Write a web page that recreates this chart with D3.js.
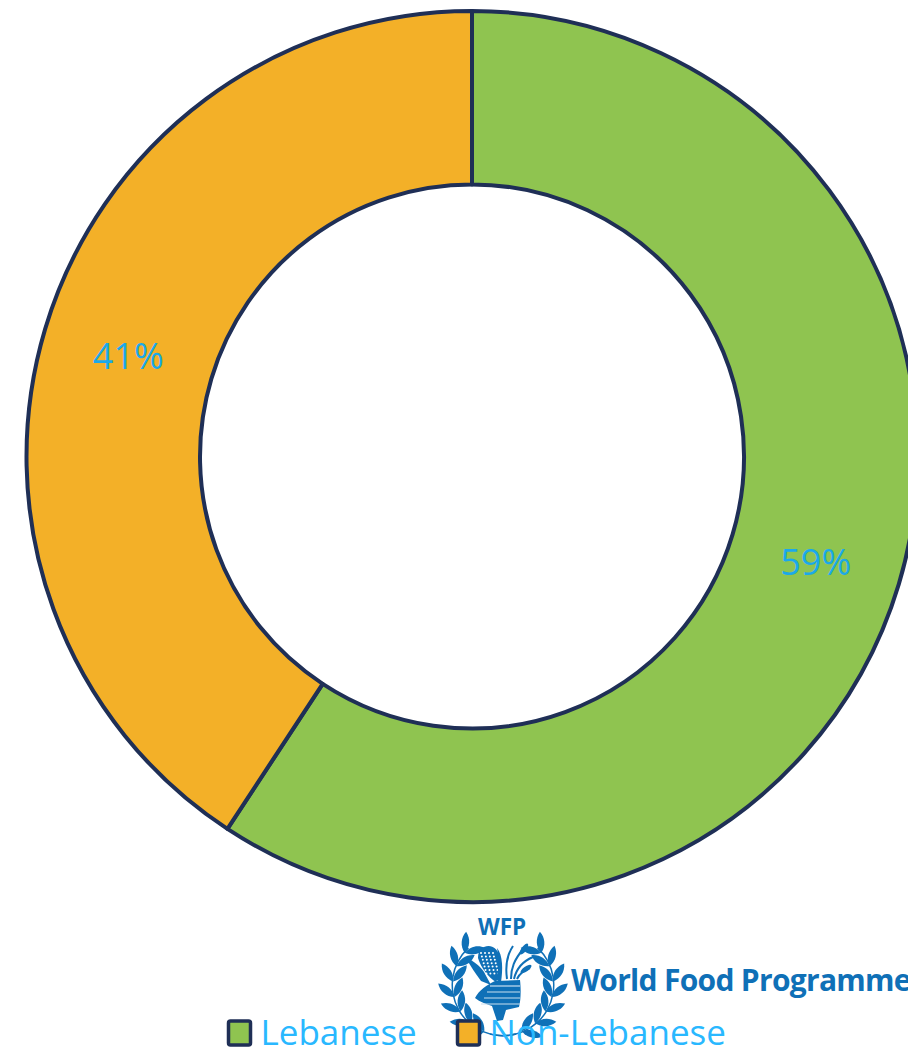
<!DOCTYPE html>
<html>
<head>
<meta charset="utf-8">
<script src="https://d3js.org/d3.v7.min.js"></script>
<style>
    html, body { margin: 0; padding: 0; background: #fff; overflow: hidden; }
    svg { display: block; }
    text { font-family: "Open Sans", sans-serif; }
</style>
</head>
<body>
<script>
    var categories = ["Lebanese", "Non-Lebanese"];
    var shares = [59.25, 40.75];
    var sliceColors = ["#8fc450", "#f3b028"];

    var width = 908, height = 1048;
    var cx = 472, cy = 456.5;
    var outer = 445.5, inner = 272;
    var navy = "#1f2f56", labelBlue = "#1ba9ea", legendBlue = "#29b8ff", logoBlue = "#0f70b7";

    var svg = d3.select("body").append("svg")
        .attr("width", width)
        .attr("height", height);

    // ==== DONUT ====== //
    var pie = d3.pie().sort(null).value(function (d) { return d; });
    var arc = d3.arc().innerRadius(inner).outerRadius(outer);
    var color = d3.scaleOrdinal().domain(categories).range(sliceColors);

    var donut = svg.append("g")
        .attr("transform", "translate(" + cx + "," + cy + ")");

    var slices = pie(shares);

    donut.selectAll("path")
        .data(slices)
        .enter().append("path")
        .attr("d", arc)
        .attr("fill", function (d, i) { return color(categories[i]); })
        .attr("stroke", navy)
        .attr("stroke-width", 4)
        .attr("stroke-linejoin", "round");

    donut.selectAll(".pct")
        .data(slices)
        .enter().append("text")
        .attr("class", "pct")
        .attr("transform", function (d) { return "translate(" + arc.centroid(d) + ")"; })
        .attr("dy", "0.35em")
        .attr("y", 3)
        .attr("text-anchor", "middle")
        .attr("fill", labelBlue)
        .style("font-size", "36px")
        .text(function (d) { return d3.format(".0f")(d.value) + "%"; });

    // ==== LOGO ====== //
    var logo = svg.append("g").attr("class", "logo");
    var logoX = 503, logoY = 985;

    logo.append("text")
        .attr("x", logoX - 1).attr("y", 935)
        .attr("text-anchor", "middle")
        .attr("fill", logoBlue)
        .style("font-size", "22.5px")
        .style("font-weight", 700)
        .text("WFP");

    logo.append("text")
        .attr("x", 571).attr("y", 991)
        .attr("fill", logoBlue)
        .style("font-size", "30px")
        .style("font-weight", 700)
        .style("letter-spacing", "-0.7px")
        .text("World Food Programme");

    // wreath: pairs of leaves along a circle, mirrored left and right
    var leafAngles = [50, 68, 86, 104, 122, 140, 158];
    var leaf = "M0,0C6,-6 7,-14 3,-21C-3,-15 -4,-7 0,0Z";
    var wreath = logo.append("g").attr("transform", "translate(" + logoX + "," + logoY + ")");

    [-1, 1].forEach(function (side) {
        var half = wreath.append("g").attr("transform", "scale(" + side + ",1)");
        half.append("path")
            .attr("d", d3.arc().innerRadius(50).outerRadius(51.5).startAngle(0.75).endAngle(3.4)())
            .attr("fill", logoBlue);
        leafAngles.forEach(function (a) {
            var g = half.append("g")
                .attr("transform", "rotate(" + a + ") translate(0,-50)");
            g.append("path").attr("d", leaf).attr("fill", logoBlue)
                .attr("transform", "rotate(-62)");
            g.append("path").attr("d", leaf).attr("fill", logoBlue)
                .attr("transform", "rotate(-118) scale(-1,1)");
        });
    });

    // corn, stalks and sheaf
    logo.append("path")
        .attr("d", "M466,958C474,961 480,966 484,972L491,985L481,981C475,973 470,965 466,958Z")
        .attr("fill", logoBlue);
    logo.append("path")
        .attr("d", "M484,947C491,944 497,948 499,955C501,965 500,975 496,982C489,978 481,968 478,958C478,952 480,949 484,947Z")
        .attr("fill", logoBlue);
    logo.selectAll(".kernel")
        .data(d3.range(28))
        .enter().append("circle")
        .attr("class", "kernel")
        .attr("cx", function (d) { return 481 + (d % 4) * 4 + Math.floor(d / 4) * 0.9; })
        .attr("cy", function (d) { return 953 + Math.floor(d / 4) * 3.4; })
        .attr("r", 1)
        .attr("fill", "#fff");
    logo.append("path")
        .attr("d", "M497,948C503,955 503,970 501,982L496,980C499,970 499,958 497,948Z")
        .attr("fill", logoBlue);
    logo.append("g")
        .attr("fill", "none").attr("stroke", logoBlue).attr("stroke-width", 2)
        .selectAll("path")
        .data([
            "M507,979C505,965 507,955 513,946",
            "M511,979C511,968 514,960 524,948",
            "M514,979C516,970 521,962 533,957",
            "M517,979C519,975 524,970 530,968"
        ])
        .enter().append("path")
        .attr("d", function (d) { return d; });
    logo.append("ellipse").attr("cx", 524).attr("cy", 949).attr("rx", 2.5).attr("ry", 6.5)
        .attr("transform", "rotate(35 524 949)").attr("fill", logoBlue);
    logo.append("ellipse").attr("cx", 526).attr("cy", 969).attr("rx", 2.5).attr("ry", 6.5)
        .attr("transform", "rotate(55 526 969)").attr("fill", logoBlue);
    logo.append("path")
        .attr("d", "M495,981L520,980C521,988 521,1000 519,1007L506,1010L503,1020L497,1021L492,1006C486,1004 480,1002 475,998C479,990 487,985 495,981Z")
        .attr("fill", logoBlue);
    logo.append("g")
        .attr("stroke", "#c9dff0").attr("stroke-width", 1.2)
        .selectAll("line")
        .data([986, 992, 998, 1004])
        .enter().append("line")
        .attr("x1", function (d, i) { return 490 - i * 3; })
        .attr("x2", 520)
        .attr("y1", function (d) { return d; })
        .attr("y2", function (d) { return d; });

    // ==== LEGEND ====== //
    var legendX = d3.scaleOrdinal().domain(categories).range([228.5, 457.5]);

    var legend = svg.selectAll(".legend")
        .data(categories)
        .enter().append("g")
        .attr("class", "legend")
        .attr("transform", function (d) { return "translate(" + legendX(d) + ",1021)"; });

    legend.append("rect")
        .attr("width", 22)
        .attr("height", 24)
        .attr("rx", 2)
        .attr("fill", function (d) { return color(d); })
        .attr("stroke", navy)
        .attr("stroke-width", 3.5);

    legend.append("text")
        .attr("x", 32)
        .attr("y", 24)
        .attr("fill", legendBlue)
        .style("font-size", "35px")
        .text(function (d) { return d; });
</script>
</body>
</html>
